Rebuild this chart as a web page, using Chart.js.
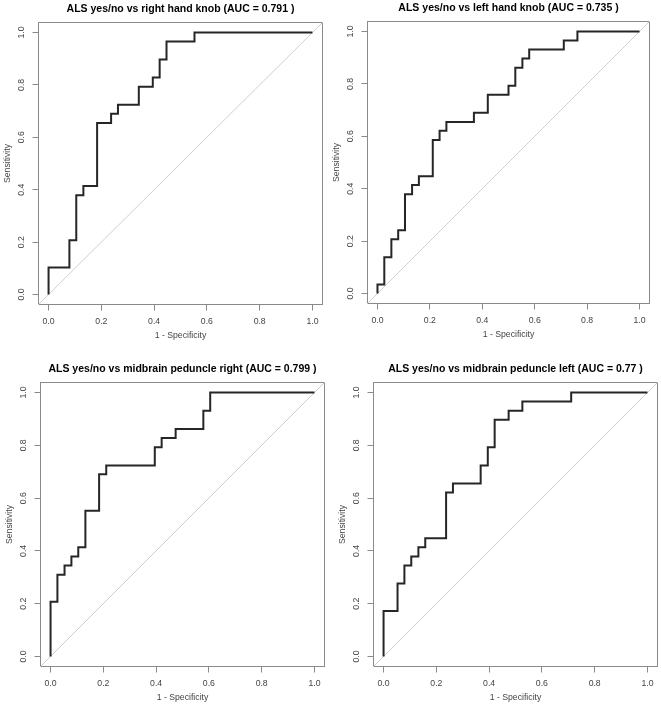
<!DOCTYPE html>
<html>
<head>
<meta charset="utf-8">
<script src="https://cdn.jsdelivr.net/npm/chart.js@4/dist/chart.umd.min.js"></script>
<style>
  html, body { margin: 0; padding: 0; background: #ffffff; overflow: hidden; }
  body { width: 661px; height: 707px; position: relative; }
  canvas { position: absolute; }
</style>
</head>
<body>
<canvas id="c1"></canvas>
<canvas id="c2"></canvas>
<canvas id="c3"></canvas>
<canvas id="c4"></canvas>
<script>
// ---- data (ROC step knots: 1 - specificity, sensitivity) ----
const titles = [
  "ALS yes/no vs right hand knob (AUC = 0.791 )",
  "ALS yes/no vs left hand knob (AUC = 0.735 )",
  "ALS yes/no vs midbrain peduncle right (AUC = 0.799 )",
  "ALS yes/no vs midbrain peduncle left (AUC = 0.77 )"
];
const xAxisTitle = "1 - Specificity";
const yAxisTitle = "Sensitivity";
const tickValues = [0, 0.2, 0.4, 0.6, 0.8, 1.0];
const axisRange = [-0.04, 1.04];
const chanceX = [-0.04, 1.04];
const chanceY = [-0.04, 1.04];

const rightKnobFpr = [0, 0.079, 0.105, 0.132, 0.184, 0.237, 0.263, 0.342, 0.395, 0.421, 0.447, 0.553, 1];
const rightKnobTpr = [0, 0.103, 0.207, 0.379, 0.414, 0.655, 0.690, 0.724, 0.793, 0.828, 0.897, 0.966, 1];

const leftKnobFpr = [0, 0.026, 0.053, 0.079, 0.105, 0.132, 0.158, 0.211, 0.237, 0.263, 0.368, 0.421, 0.500, 0.526, 0.553, 0.579, 0.711, 0.763, 1];
const leftKnobTpr = [0, 0.034, 0.138, 0.207, 0.241, 0.379, 0.414, 0.448, 0.586, 0.621, 0.655, 0.690, 0.759, 0.793, 0.862, 0.897, 0.931, 0.966, 1];

const pedRightFpr = [0, 0.026, 0.053, 0.079, 0.105, 0.132, 0.184, 0.211, 0.395, 0.421, 0.474, 0.579, 0.605, 1];
const pedRightTpr = [0, 0.207, 0.310, 0.345, 0.379, 0.414, 0.552, 0.690, 0.724, 0.793, 0.828, 0.862, 0.931, 1];

const pedLeftFpr = [0, 0.053, 0.079, 0.105, 0.132, 0.158, 0.237, 0.263, 0.368, 0.395, 0.421, 0.474, 0.526, 0.711, 1];
const pedLeftTpr = [0, 0.172, 0.276, 0.345, 0.379, 0.414, 0.448, 0.621, 0.655, 0.724, 0.793, 0.897, 0.931, 0.966, 1];

const seriesX = [rightKnobFpr, leftKnobFpr, pedRightFpr, pedLeftFpr];
const seriesY = [rightKnobTpr, leftKnobTpr, pedRightTpr, pedLeftTpr];

// ---- layout (plot boxes in page pixels) ----
const boxes = [
  { left: 38,  top: 22,  width: 285, height: 283 },
  { left: 367, top: 21,  width: 283, height: 283 },
  { left: 40,  top: 382, width: 285, height: 285 },
  { left: 373, top: 382, width: 285, height: 285 }
];
const Y_AXIS_W = 36, TITLE_H = 22, X_AXIS_H = 42, RIGHT_PAD = 10;
const FONT = "'Liberation Sans', Arial, Helvetica, sans-serif";
const BASE = 8.7;

const boxPlugin = {
  id: 'plotBox',
  beforeDatasetsDraw(chart) {
    const a = chart.chartArea, ctx = chart.ctx;
    ctx.save();
    ctx.strokeStyle = '#8a8a8a';
    ctx.lineWidth = 1;
    ctx.strokeRect(Math.round(a.left) + 0.5, Math.round(a.top) + 0.5,
                   Math.round(a.right - a.left) - 1, Math.round(a.bottom - a.top) - 1);
    ctx.restore();
  }
};

function setTicks(scale) {
  scale.ticks = tickValues.map(v => ({ value: v }));
}

function makeChart(i) {
  const b = boxes[i];
  const cv = document.getElementById('c' + (i + 1));
  cv.width = b.width + Y_AXIS_W + RIGHT_PAD;
  cv.height = b.height + TITLE_H + X_AXIS_H;
  cv.style.left = (b.left - Y_AXIS_W) + 'px';
  cv.style.top = (b.top - TITLE_H) + 'px';

  const roc = seriesX[i].map((x, k) => ({ x: x, y: seriesY[i][k] }));
  const chance = chanceX.map((x, k) => ({ x: x, y: chanceY[k] }));

  new Chart(cv, {
    type: 'line',
    data: {
      datasets: [
        { data: roc, borderColor: '#262626', borderWidth: 2, pointRadius: 0,
          stepped: 'after', fill: false, tension: 0 },
        { data: chance, borderColor: '#cfcfcf', borderWidth: 1, pointRadius: 0,
          fill: false, tension: 0 }
      ]
    },
    options: {
      responsive: false,
      animation: false,
      devicePixelRatio: 1,
      layout: { padding: { left: 0, right: RIGHT_PAD, top: 0, bottom: 0 } },
      plugins: {
        legend: { display: false },
        tooltip: { enabled: false },
        title: {
          display: true, text: titles[i], color: '#000000', fullSize: false,
          font: { family: FONT, size: 10.5, weight: 'bold', lineHeight: 1.2 },
          padding: { top: 2.9, bottom: TITLE_H - 2.9 - 12.6 }
        }
      },
      scales: {
        x: {
          type: 'linear', min: axisRange[0], max: axisRange[1],
          afterBuildTicks: setTicks,
          afterFit: s => { s.height = X_AXIS_H; },
          grid: { drawOnChartArea: false, drawTicks: true, tickLength: 5.5, color: '#8a8a8a' },
          border: { display: false },
          ticks: { color: '#444444', font: { family: FONT, size: BASE }, padding: 6,
                   maxRotation: 0, autoSkip: false, callback: v => v.toFixed(1) },
          title: { display: true, text: xAxisTitle, color: '#444444',
                   font: { family: FONT, size: BASE, lineHeight: 1.2 },
                   padding: { top: 0, bottom: 5.8 } }
        },
        y: {
          type: 'linear', min: axisRange[0], max: axisRange[1],
          afterBuildTicks: setTicks,
          afterFit: s => { s.width = Y_AXIS_W; },
          grid: { drawOnChartArea: false, drawTicks: true, tickLength: 5.5, color: '#8a8a8a' },
          border: { display: false },
          ticks: { color: '#444444', font: { family: FONT, size: BASE }, padding: 4.5,
                   minRotation: 90, maxRotation: 90, crossAlign: 'center', autoSkip: false,
                   callback: v => v.toFixed(1) },
          title: { display: true, text: yAxisTitle, color: '#444444',
                   font: { family: FONT, size: BASE, lineHeight: 1 },
                   padding: { top: 1.5, bottom: 0 } }
        }
      }
    },
    plugins: [boxPlugin]
  });
}

for (let i = 0; i < 4; i++) makeChart(i);
</script>
</body>
</html>
